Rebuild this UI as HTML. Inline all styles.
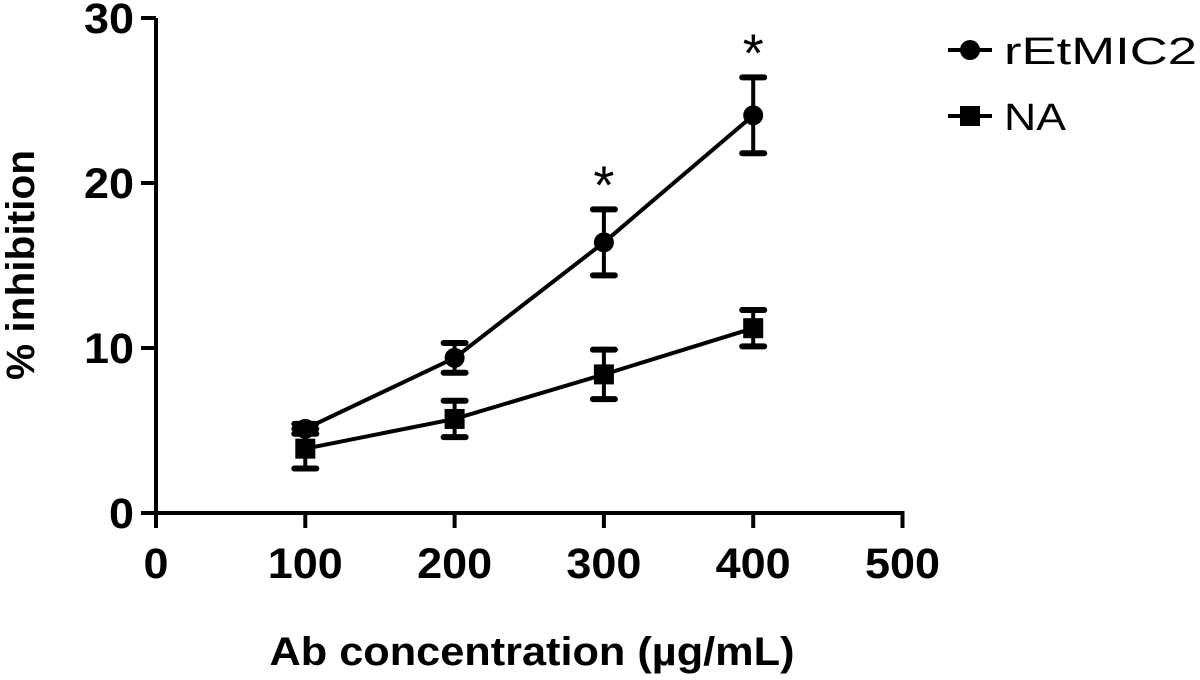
<!DOCTYPE html>
<html><head><meta charset="utf-8"><style>
body{margin:0;background:#fff;}
svg text{font-family:"Liberation Sans",sans-serif;font-weight:bold;fill:#000;}
</style></head><body>
<svg id="chart" width="1200" height="675" viewBox="0 0 1200 675" xmlns="http://www.w3.org/2000/svg">
<g id="axes"></g><g id="series"></g>
<text x="0" y="0" transform="translate(34,265) rotate(-90)" text-anchor="middle" font-size="40" textLength="230" lengthAdjust="spacingAndGlyphs">% inhibition</text>
<text x="532" y="665" text-anchor="middle" font-size="40" textLength="525" lengthAdjust="spacingAndGlyphs">Ab concentration (µg/mL)</text>
<g>
<line x1="948" y1="50" x2="992" y2="50" stroke="#000" stroke-width="4"/><circle cx="970" cy="50" r="10"/>
<text x="1004" y="64" font-size="38" style="font-weight:normal" textLength="193" lengthAdjust="spacingAndGlyphs">rEtMIC2</text>
<line x1="948" y1="116" x2="992" y2="116" stroke="#000" stroke-width="4"/><rect x="960" y="106" width="20" height="20"/>
<text x="1004" y="130" font-size="38" style="font-weight:normal" textLength="62" lengthAdjust="spacingAndGlyphs">NA</text>
</g>
</svg>
<script>
const xValues=[100,200,300,400];
const rEtMIC2=[5.1,9.4,16.4,24.1];
const rEtMIC2Err=[0.3,0.9,2.0,2.3];
const naValues=[3.9,5.7,8.4,11.2];
const naErr=[1.2,1.1,1.5,1.1];
const xTicks=[0,100,200,300,400,500];
const yTicks=[0,10,20,30];
const sigX=[300,400];
const NS="http://www.w3.org/2000/svg";
const xs=v=>156+v*1.493;
const ys=v=>513-v*16.5;
function mk(t,a,p){const e=document.createElementNS(NS,t);for(const k in a)e.setAttribute(k,a[k]);p.appendChild(e);return e;}
const ax=document.getElementById('axes'),se=document.getElementById('series');
let l=mk('line',{x1:156,y1:ys(30),x2:156,y2:515,stroke:'#000','stroke-width':4},ax);


l=mk('line',{x1:141,y1:513,x2:xs(500)+2,y2:513,stroke:'#000','stroke-width':4},ax);


xTicks.forEach(v=>{mk('line',{x1:xs(v),y1:513,x2:xs(v),y2:528,stroke:'#000','stroke-width':4},ax);
const s=String(v);
const t=mk('text',{x:xs(v),y:578,'text-anchor':'middle','font-size':43,textLength:s.length*25,lengthAdjust:'spacingAndGlyphs'},ax);t.textContent=v;

});
yTicks.forEach(v=>{mk('line',{x1:141,y1:ys(v),x2:156,y2:ys(v),stroke:'#000','stroke-width':4},ax);
const s=String(v);
const t=mk('text',{x:134,y:ys(v)+15,'text-anchor':'end','font-size':43,textLength:s.length*25,lengthAdjust:'spacingAndGlyphs'},ax);t.textContent=v;

});
function series(vals,errs,shape,name){
const g=mk('g',{},se);


mk('polyline',{points:vals.map((v,i)=>xs(xValues[i])+','+ys(v)).join(' '),fill:'none',stroke:'#000','stroke-width':4},g);
vals.forEach((v,i)=>{const x=xs(xValues[i]);const t=ys(v+errs[i]),b=ys(v-errs[i]);
mk('line',{x1:x,y1:t,x2:x,y2:b,stroke:'#000','stroke-width':4},g);
mk('line',{x1:x-11,y1:t,x2:x+11,y2:t,stroke:'#000','stroke-width':6,'stroke-linecap':'round'},g);
mk('line',{x1:x-11,y1:b,x2:x+11,y2:b,stroke:'#000','stroke-width':6,'stroke-linecap':'round'},g);
if(shape==='c')mk('circle',{cx:x,cy:ys(v),r:10},g);else mk('rect',{x:x-10,y:ys(v)-10,width:20,height:20},g);});}
series(rEtMIC2,rEtMIC2Err,'c','series-rEtMIC2');
series(naValues,naErr,'s','series-NA');
sigX.forEach(x=>{const i=xValues.indexOf(x);const t=mk('text',{x:xs(x),y:ys(rEtMIC2[i]+rEtMIC2Err[i])-6,'text-anchor':'middle','font-size':54,style:'font-weight:normal'},se);t.textContent='*';

});
</script>
</body></html>
